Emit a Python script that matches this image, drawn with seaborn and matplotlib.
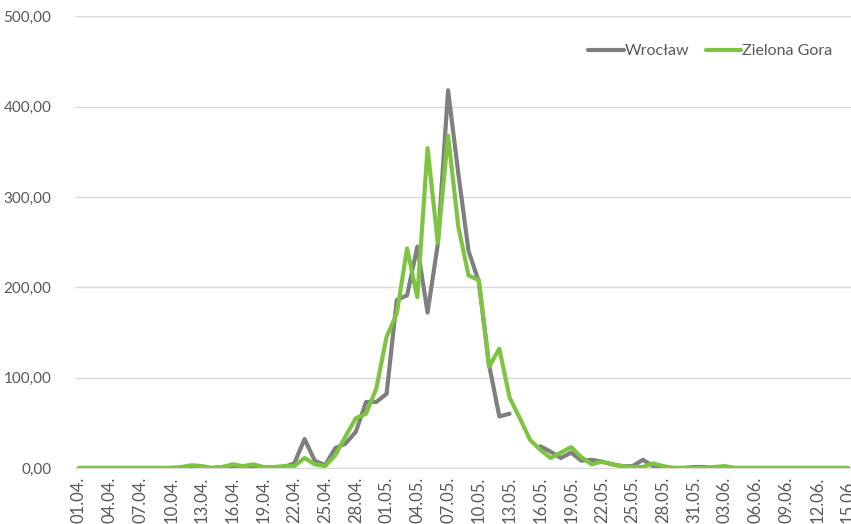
import numpy as np
import pandas as pd
import seaborn as sns
import matplotlib.pyplot as plt

# daily values 01.04 - 15.06
dates = pd.date_range("2020-04-01", "2020-06-15", freq="D")
date_labels = [d.strftime("%d.%m.") for d in dates]

wroclaw = [0, 0, 0, 0, 0, 0, 0, 0, 0, 0,
           0, 0, 0, 0, 1, 1, 1, 1, 0, 0,
           1, 5, 32, 8, 3, 22, 27, 40, 73, 73,
           82, 186, 191, 245, 172, 248, 418, 326, 240, 206,
           114, 57, 60, np.nan, np.nan, 24, 18, 11, 17, 8,
           9, 7, 4, 2, 2, 9, 2, 0, 0, 0,
           1, 1, 0, 0, 0, 0, 0, 0, 0, 0,
           0, 0, 0, 0, 0, 0]

zielona_gora = [0, 0, 0, 0, 0, 0, 0, 0, 0, 0,
                1, 3, 2, 0, 1, 4, 2, 4, 1, 1,
                2, 2, 11, 4, 2, 14, 35, 55, 60, 88,
                145, 171, 243, 189, 354, 249, 368, 267, 213, 208,
                112, 132, 78, 55, 31, 20, 11, 17, 23, 12,
                4, 7, 4, 2, 1, 1, 5, 2, 0, 0,
                0, 0, 1, 2, 0, 0, 0, 0, 0, 0,
                0, 0, 0, 0, 0, 0]

series = {"Wrocław": wroclaw, "Zielona Gora": zielona_gora}
colors = {"Wrocław": "#7f7f7f", "Zielona Gora": "#7dc540"}

rows = []
for city, vals in series.items():
    seg = 0
    for i, v in enumerate(vals):
        if np.isnan(v):
            seg += 1
            continue
        rows.append({"day": i, "value": v, "city": city, "seg": seg})
df = pd.DataFrame(rows)

sns.set_style("white")
plt.rcParams["font.family"] = ["Lato", "DejaVu Sans"]

fig = plt.figure(figsize=(8.51, 5.24), dpi=100)
ax = fig.add_axes([0.088, 0.107, 0.912, 0.862])

sns.lineplot(data=df, x="day", y="value", hue="city", units="seg",
             estimator=None, palette=colors, linewidth=3.0,
             legend=False, ax=ax)

ax.set_xlim(-0.4, 75.3)
ax.set_ylim(0, 500)
ax.set_yticks(range(0, 501, 100))
ax.set_yticklabels([f"{v},00" for v in range(0, 501, 100)])
ticks = list(range(0, len(dates), 3))
ax.set_xticks(ticks)
ax.set_xticklabels([date_labels[i] for i in ticks], rotation=90)
ax.tick_params(axis="both", colors="#595959", length=0)
ax.tick_params(axis="y", labelsize=11, pad=17)
ax.tick_params(axis="x", labelsize=12, pad=6)
ax.grid(axis="y", color="#d9d9d9", linewidth=1)
ax.set_axisbelow(True)
for s in ["top", "right", "left"]:
    ax.spines[s].set_visible(False)
ax.spines["bottom"].set_color("#d9d9d9")
ax.set_xlabel("")
ax.set_ylabel("")

handles = [plt.Line2D([], [], color=colors[c], linewidth=3.0) for c in series]
ax.legend(handles, list(series), loc="upper right", ncol=2, frameon=False,
          bbox_to_anchor=(0.995, 0.97), fontsize=11.5, handlelength=2.2,
          handletextpad=0.1, columnspacing=1.0, labelcolor="#595959")

fig.savefig("out.png", dpi=100)
